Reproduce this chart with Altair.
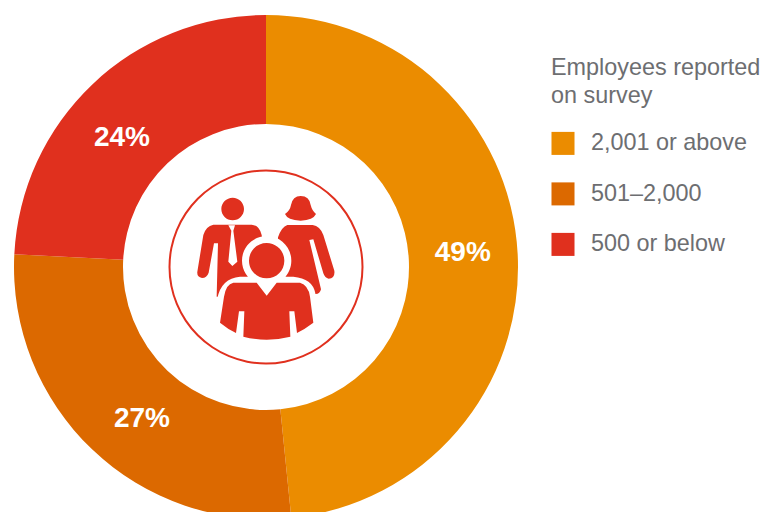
import re
import altair as alt
import pandas as pd

categories = ["2,001 or above", "501–2,000", "500 or below"]
shares = [48.4, 27.4, 24.2]
labels = ["49%", "27%", "24%"]
colors = ["#EB8C00", "#DC6900", "#E0301E"]
legend_title = ["Employees reported", "on survey"]

df = pd.DataFrame({"cat": categories, "share": shares, "label": labels, "ord": [0, 1, 2]})

FONT = "Liberation Sans"
GREY = "#6D6E71"
RED = "#E0301E"
CX, CY = 348, 351


def shift(p):
    out = []
    for tok in re.findall(r"[MLQCZ]|[-\d.]+,[-\d.]+", p):
        if "," in tok:
            a, b = tok.split(",")
            out.append(f"{float(a)-CX:.1f},{float(b)-CY:.1f}")
        else:
            out.append(tok)
    return " ".join(out)


def circ(cx, cy, r):
    k = 0.5523 * r
    return (f"M{cx-r},{cy} C{cx-r},{cy-k} {cx-k},{cy-r} {cx},{cy-r} "
            f"C{cx+k},{cy-r} {cx+r},{cy-k} {cx+r},{cy} "
            f"C{cx+r},{cy+k} {cx+k},{cy+r} {cx},{cy+r} "
            f"C{cx-k},{cy+r} {cx-r},{cy+k} {cx-r},{cy} Z ")


back = shift(
    circ(248, 177, 34)
    + "M190,224 L305,224 Q328,226 335,255 L345,330 L300,440 L200,440 L204,280 L192,280 L176,368 "
      "Q170,384 156,384 Q140,382 142,365 L160,255 Q168,228 190,224 Z "
    + "M452,138 Q478,138 482,165 Q486,182 498,192 Q490,210 452,212 Q412,210 405,192 "
      "Q420,182 423,165 Q428,138 452,138 Z "
    + "M412,225 L488,225 Q510,228 520,255 L553,362 Q556,385 536,386 Q525,385 520,370 L490,268 "
      "L478,270 L513,418 Q510,432 497,432 L440,420 L380,400 L384,262 Q395,230 412,225 Z"
)
halo = shift(
    circ(350, 332, 74)
    + "M202,445 Q214,385 270,380 L430,380 Q488,385 496,430 L496,560 L202,560 Z"
)
tie = shift("M235,226 L255,226 L250,242 L262,335 L247,348 L235,335 L244,242 Z")
front = shift(
    circ(350, 332, 53)
    + "M250,398 L320,398 L350,437 L380,398 L450,398 Q475,405 480,440 L490,518 Q465,537 441,549 "
      "L433,484 L418,484 L421,560 Q350,578 280,560 L283,484 L267,484 L258,549 Q233,537 210,518 "
      "L222,440 Q228,402 250,398 Z"
)

W, H = 516, 518
one = alt.Data(values=[{"k": 1}])
centre = dict(x=alt.value(W / 2), y=alt.value(H / 2))

base = alt.Chart(df)
theta = alt.Theta("share:Q", stack=True)
order = alt.Order("ord:Q")

arcs = base.mark_arc(outerRadius=252, innerRadius=143).encode(
    theta=theta,
    order=order,
    color=alt.Color(
        "cat:N",
        scale=alt.Scale(domain=categories, range=colors),
        legend=alt.Legend(
            title=legend_title, orient="none", legendX=543, legendY=49,
            titleFont=FONT, titleFontSize=23.4, titleFontWeight="normal", titleColor=GREY,
            titleLineHeight=28, titlePadding=23, titleLimit=230, labelFont=FONT, labelFontSize=23.4,
            labelColor=GREY, symbolType="square", symbolSize=530, symbolStrokeWidth=0,
            symbolOpacity=1, labelOffset=16, rowPadding=26.5, labelLimit=220,
        ),
    ),
)

nudges = {"49%": (1, -4), "27%": (11, 10), "24%": (-9, 13)}
texts = []
for lab, (dx, dy) in nudges.items():
    texts.append(
        base.mark_text(
            radius=196, font=FONT, fontSize=28, fontWeight="bold", color="white", dx=dx, dy=dy
        ).encode(theta=theta, order=order, text="label:N",
                 opacity=alt.condition(f"datum.label == '{lab}'", alt.value(1), alt.value(0)))
    )

ring = alt.Chart(one).mark_arc(
    outerRadius=97.5, innerRadius=95.5, theta=0, theta2=6.2832, color=RED
).encode(**centre)


def glyph(path, fill):
    return alt.Chart(one).mark_point(
        shape=path, size=4 / 9, filled=True, fill=fill, opacity=1, strokeWidth=0
    ).encode(**centre)


chart = alt.layer(
    arcs, *texts, ring, glyph(back, RED), glyph(tie, "white"), glyph(halo, "white"), glyph(front, RED)
).properties(
    width=W, height=H,
    autosize=alt.AutoSizeParams(type="none"),
    padding={"left": 0, "top": 0, "right": 240, "bottom": 0},
    background="white",
).configure_view(stroke=None)

chart.save("out.html", embed_options={"renderer": "svg", "actions": False})
